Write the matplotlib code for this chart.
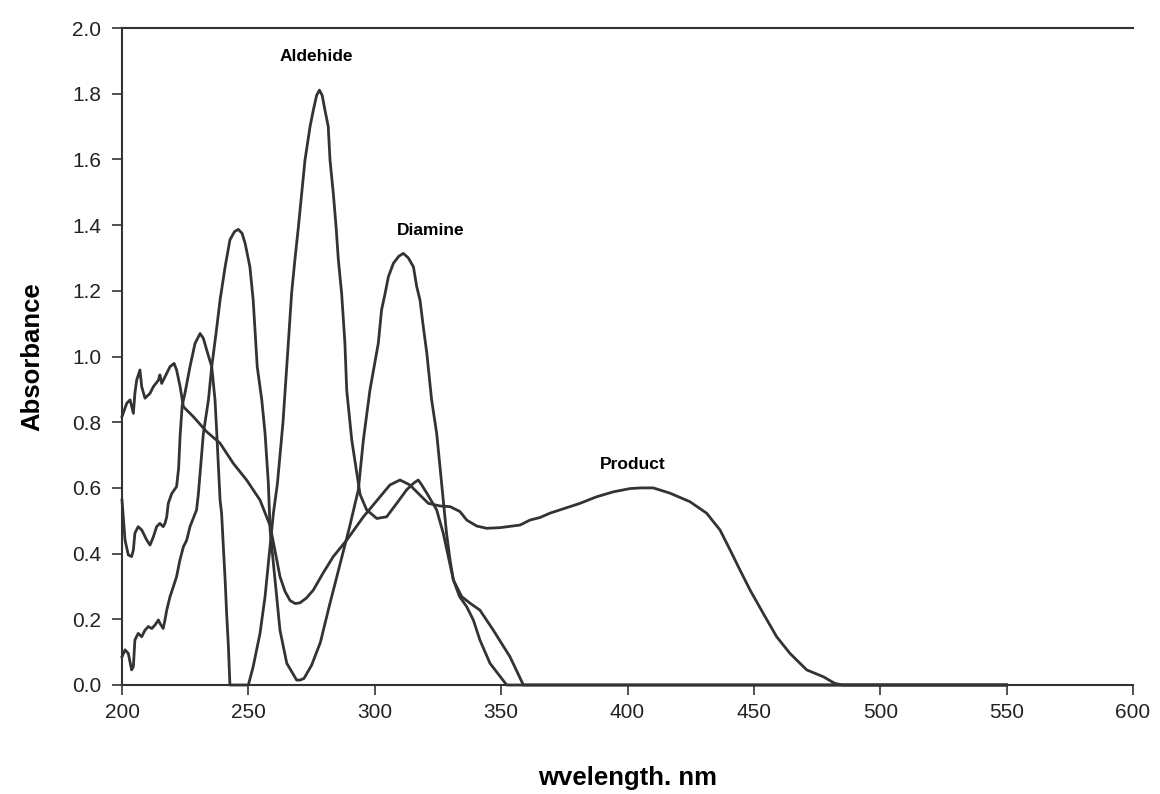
import matplotlib
matplotlib.use("Agg")
import matplotlib.pyplot as plt

# ---- data ----
ald_x = [200, 200.5, 201.2, 202.5, 203.8, 204.5, 205.1, 206.4, 207.8, 209.8, 211.1, 212.4, 213.7,
         215.0, 216.3, 217.0, 217.7, 218.3, 219.7, 221.6, 222.4, 223.0, 223.8, 224.9, 226.9, 228.9,
         230.9, 232.2, 233.5, 235.5, 236.8, 237.5, 238.8, 239.4, 240.1, 240.8, 241.4, 242.1, 242.7,
         250.0, 251.9, 254.6, 256.6, 257.9, 259.9, 261.5, 263.7, 265.8, 267.1, 268.4, 269.8, 271.1,
         272.4, 274.4, 275.7, 277.0, 278.1, 279.2, 280.3, 281.6, 282.3, 283.6, 284.7, 285.6, 286.9,
         288.2, 288.9, 290.9, 292.9, 294.2, 296.8, 300.8, 304.7, 308.7, 312.6, 315.5, 317.2, 318.5,
         320.6, 324.5, 327.1, 329.1, 331.1, 334.4, 337.7, 341.6, 346.9, 353.5, 358.8, 550]
ald_y = [0.563, 0.512, 0.441, 0.396, 0.391, 0.411, 0.462, 0.482, 0.472, 0.441, 0.426, 0.451, 0.482,
         0.492, 0.482, 0.492, 0.512, 0.553, 0.583, 0.604, 0.66, 0.76, 0.85, 0.888, 0.969, 1.04,
         1.07, 1.055, 1.02, 0.969, 0.868, 0.766, 0.563, 0.523, 0.421, 0.32, 0.218, 0.117, 0.0,
         0.0, 0.056, 0.157, 0.269, 0.37, 0.523, 0.614, 0.80, 1.04, 1.192, 1.294, 1.395, 1.497,
         1.598, 1.70, 1.75, 1.795, 1.811, 1.795, 1.75, 1.70, 1.598, 1.497, 1.395, 1.294, 1.192,
         1.04, 0.898, 0.746, 0.645, 0.58, 0.533, 0.507, 0.512, 0.553, 0.594, 0.615, 0.624, 0.61,
         0.584, 0.533, 0.462, 0.391, 0.32, 0.269, 0.249, 0.228, 0.167, 0.086, 0.0, 0.0]

dia_x = [200, 201.2, 202.5, 203.8, 204.5, 205.1, 206.4, 207.8, 209.1, 210.4, 211.8, 213.1, 214.4,
         215.0, 216.3, 217.0, 217.7, 219.0, 220.3, 221.6, 222.9, 224.3, 225.6, 226.9, 229.5, 230.2,
         232.2, 234.2, 235.5, 237.2, 238.8, 240.8, 242.7, 244.5, 246.0, 247.5, 248.7, 250.6, 251.9,
         253.5, 255.3, 256.6, 257.9, 258.6, 259.9, 261.2, 262.5, 265.2, 269.1, 270.4, 272.0, 275.0,
         278.5, 282.0, 286.0, 290.0, 293.5, 295.5, 298.1, 301.4, 302.7, 304.1, 305.4, 307.4, 309.5,
         311.3, 313.3, 315.3, 316.6, 317.9, 319.2, 320.6, 322.5, 324.5, 325.8, 327.1, 328.4, 329.8,
         331.1, 333.5, 336.4, 339.0, 341.6, 345.6, 352.2, 550]
dia_y = [0.086, 0.107, 0.096, 0.046, 0.056, 0.137, 0.157, 0.147, 0.167, 0.178, 0.172, 0.183, 0.198,
         0.188, 0.172, 0.198, 0.228, 0.269, 0.299, 0.33, 0.38, 0.421, 0.441, 0.482, 0.533, 0.58,
         0.766, 0.868, 0.969, 1.07, 1.172, 1.273, 1.355, 1.38, 1.387, 1.375, 1.345, 1.273, 1.172,
         0.969, 0.868, 0.766, 0.614, 0.472, 0.37, 0.269, 0.167, 0.066, 0.015, 0.015, 0.02, 0.06,
         0.13, 0.24, 0.36, 0.48, 0.594, 0.746, 0.898, 1.04, 1.142, 1.192, 1.243, 1.284, 1.305,
         1.314, 1.30, 1.273, 1.213, 1.172, 1.091, 1.01, 0.868, 0.766, 0.665, 0.563, 0.462, 0.38,
         0.32, 0.27, 0.238, 0.198, 0.137, 0.066, 0.0, 0.0]

pro_x = [200, 201.9, 203.2, 204.5, 205.1, 205.8, 207.1, 207.8, 209.1, 211.1, 212.4, 214.4, 215.0,
         215.7, 217.0, 219.0, 220.6, 221.6, 223.0, 224.3, 225.6, 228.2, 233.5, 238.8, 244.0, 249.3,
         254.6, 258.6, 260.5, 262.5, 264.5, 266.5, 268.5, 270.4, 273.0, 275.7, 279.5, 283.6, 288.9,
         295.5, 302.1, 306.0, 310.0, 313.9, 317.9, 321.2, 325.8, 329.8, 333.7, 336.4, 340.3, 344.3,
         349.6, 357.5, 361.4, 365.4, 369.3, 381.2, 387.8, 394.4, 401.0, 405.5, 410.2, 416.8, 424.7,
         431.3, 436.6, 440.6, 444.5, 448.5, 453.7, 459.0, 464.3, 470.9, 477.5, 482.0, 485.0, 550]
pro_y = [0.817, 0.858, 0.868, 0.827, 0.888, 0.928, 0.959, 0.908, 0.873, 0.888, 0.908, 0.928, 0.944,
         0.918, 0.938, 0.969, 0.979, 0.959, 0.908, 0.847, 0.837, 0.817, 0.771, 0.736, 0.675, 0.624,
         0.563, 0.485, 0.41, 0.33, 0.285, 0.257, 0.248, 0.25, 0.265, 0.289, 0.34, 0.391, 0.441,
         0.512, 0.573, 0.609, 0.624, 0.609, 0.578, 0.553, 0.545, 0.543, 0.528, 0.502, 0.484, 0.477,
         0.479, 0.487, 0.502, 0.51, 0.523, 0.553, 0.573, 0.588, 0.598, 0.60, 0.60, 0.584, 0.558,
         0.523, 0.472, 0.411, 0.35, 0.289, 0.218, 0.147, 0.096, 0.046, 0.025, 0.005, 0.0, 0.0]

labels = ["Aldehide", "Diamine", "Product"]
label_x = [277, 322, 402]
label_y = [1.912, 1.385, 0.67]

x_ticks = [200, 250, 300, 350, 400, 450, 500, 550, 600]
y_ticks = [0.0, 0.2, 0.4, 0.6, 0.8, 1.0, 1.2, 1.4, 1.6, 1.8, 2.0]

# ---- figure ----
plt.rcParams['font.family'] = ['Liberation Sans', 'DejaVu Sans']
fig = plt.figure(figsize=(11.6, 7.94), dpi=100)
ax = fig.add_axes([122/1160, 1 - 685/794, (1133-122)/1160, (685-28)/794])

lc = '#333333'
for xs, ys in [(ald_x, ald_y), (dia_x, dia_y), (pro_x, pro_y)]:
    ax.plot(xs, ys, color=lc, lw=2.0, solid_joinstyle='round', clip_on=False)

for t, lx, ly in zip(labels, label_x, label_y):
    ax.text(lx, ly, t, ha='center', va='center', fontsize=12.5, fontweight='bold', color='black')

ax.set_xlim(200, 600)
ax.set_ylim(0, 2.0)
ax.set_xticks(x_ticks)
ax.set_xticklabels([str(v) for v in x_ticks])
ax.set_yticks(y_ticks)
ax.set_yticklabels([f"{v:.1f}" for v in y_ticks])
ax.tick_params(direction='out', length=7, width=1.2, color=lc, labelsize=15, pad=6,
               labelcolor='#222222')
ax.tick_params(axis='y', pad=8)

ax.spines['right'].set_visible(False)
for s in ['left', 'bottom', 'top']:
    ax.spines[s].set_color(lc)
    ax.spines[s].set_linewidth(1.5)

ax.set_xlabel("wvelength. nm", fontsize=18.5, fontweight='bold', labelpad=32)
ax.set_ylabel("Absorbance", fontsize=18.5, fontweight='bold', labelpad=20)

fig.savefig("out.png", dpi=100)
